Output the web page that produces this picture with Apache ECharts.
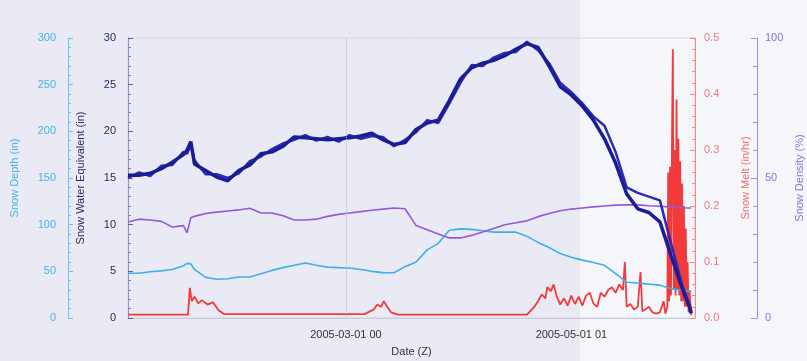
<!DOCTYPE html>
<html>
<head>
<meta charset="utf-8">
<script src="https://cdn.jsdelivr.net/npm/echarts@6/dist/echarts.min.js"></script>
<style>
  html, body { margin: 0; padding: 0; }
  #chart { width: 807px; height: 361px; }
</style>
</head>
<body>
<div id="chart"></div>
<script>
// sample times for depth / SWE / density (UTC)
var obsDates = [
  '2005-01-01 00:00','2005-01-04 00:00','2005-01-07 00:00','2005-01-10 00:00','2005-01-13 00:00',
  '2005-01-16 00:00','2005-01-17 00:00','2005-01-18 00:00','2005-01-19 00:00','2005-01-22 00:00',
  '2005-01-25 00:00','2005-01-28 00:00','2005-01-31 00:00','2005-02-03 00:00','2005-02-06 00:00',
  '2005-02-09 00:00','2005-02-12 00:00','2005-02-15 00:00','2005-02-18 00:00','2005-02-21 00:00',
  '2005-02-24 00:00','2005-02-27 00:00','2005-03-02 00:00','2005-03-05 00:00','2005-03-08 00:00',
  '2005-03-11 00:00','2005-03-14 00:00','2005-03-17 00:00','2005-03-20 00:00','2005-03-23 00:00',
  '2005-03-26 00:00','2005-03-29 00:00','2005-04-01 00:00','2005-04-04 00:00','2005-04-07 00:00',
  '2005-04-10 00:00','2005-04-13 00:00','2005-04-16 00:00','2005-04-19 00:00','2005-04-22 00:00',
  '2005-04-25 00:00','2005-04-28 00:00','2005-05-01 00:00','2005-05-04 00:00','2005-05-07 00:00',
  '2005-05-10 00:00','2005-05-13 00:00','2005-05-16 00:00','2005-05-19 00:00','2005-05-22 00:00',
  '2005-05-25 00:00','2005-05-28 00:00','2005-05-31 00:00','2005-06-02 00:00','2005-06-02 12:00'
];
var snowDepth = [
  48, 48, 49.5, 50.5, 52, 56, 58.5, 58, 52, 43.5,
  41.5, 42, 44, 44, 47.5, 51, 54, 56.5, 59, 56.5,
  54.5, 54, 53.6, 52, 50, 48.6, 48.5, 55, 60, 73,
  80, 94, 95.5, 95, 93.5, 92, 92, 92, 87.5, 81,
  75.5, 69, 65, 62, 59.5, 56.5, 47.5, 38.3, 37.5, 36.3,
  35.2, 31.5, 29.5, 28.5, 28
];
var sweMain = [
  15.3, 15.3, 15.5, 16.0, 16.7, 17.5, 18.0, 18.9, 16.5, 15.8,
  15.1, 14.7, 15.8, 16.4, 17.6, 17.8, 18.4, 19.4, 19.3, 19.2,
  19.1, 19.2, 19.3, 19.5, 19.8, 19.1, 18.6, 18.8, 20.2, 20.9,
  21.2, 23.3, 25.6, 26.8, 27.3, 27.6, 28.1, 28.8, 29.4, 29.0,
  27.0, 24.8, 23.9, 22.7, 21.2, 19.2, 16.6, 13.3, 11.7, 11.3,
  10.3, 6.7, 3.2, 1.2, 0.5
];
var sweAlt = [
  15.0, 15.6, 15.2, 16.3, 16.4, 17.8, 17.6, 18.6, 16.9, 15.4,
  15.4, 15.0, 15.5, 16.8, 17.3, 18.1, 18.7, 19.1, 19.6, 19.0,
  19.4, 18.9, 19.6, 19.2, 19.5, 19.4, 18.4, 19.1, 19.9, 21.2,
  20.9, 23.0, 25.2, 27.1, 27.0, 27.9, 28.4, 28.5, 29.6, 28.7,
  27.3, 25.2, 24.2, 23.0, 21.6, 20.6, 17.8, 14.0, 13.4, 13.0,
  12.6, 8.0, 3.6, 1.4, 0.7
];
var snowDensity = [
  34.3, 35.3, 35, 34.5, 32.5, 33, 30.4, 35.8, 36.3, 37.3,
  37.8, 38.2, 38.6, 39.2, 37.5, 37.5, 36.5, 35, 35, 35.3,
  36.3, 37, 37.5, 38, 38.5, 38.9, 39.3, 39, 33, 31.5,
  30, 28.6, 28.6, 29.5, 30.7, 32, 33.3, 34, 34.7, 36.2,
  37.3, 38.3, 38.9, 39.3, 39.7, 40, 40.3, 40.4, 40.4, 40.1,
  39.9, 39.6, 39.4, 39.3, 39.3
];

// snow melt has its own (finer) times
var meltDates = [
  '2005-01-01 00:00','2005-01-17 06:00','2005-01-17 18:00','2005-01-18 06:00','2005-01-19 00:00',
  '2005-01-20 00:00','2005-01-21 00:00','2005-01-22 12:00','2005-01-24 00:00','2005-01-25 12:00',
  '2005-01-27 00:00','2005-03-06 00:00','2005-03-08 12:00','2005-03-09 12:00','2005-03-10 12:00',
  '2005-03-11 06:00','2005-03-12 00:00','2005-03-13 06:00','2005-03-15 00:00','2005-04-19 00:00',
  '2005-04-21 00:00','2005-04-22 00:00','2005-04-23 00:00','2005-04-24 00:00','2005-04-24 12:00',
  '2005-04-25 12:00','2005-04-26 06:00','2005-04-27 00:00','2005-04-28 00:00','2005-04-29 00:00',
  '2005-04-30 00:00','2005-05-01 00:00','2005-05-02 00:00','2005-05-03 00:00','2005-05-04 00:00',
  '2005-05-05 00:00','2005-05-06 00:00','2005-05-07 00:00','2005-05-08 00:00','2005-05-09 00:00',
  '2005-05-10 00:00','2005-05-11 00:00','2005-05-12 00:00','2005-05-13 00:00','2005-05-14 00:00',
  '2005-05-15 00:00','2005-05-15 12:00','2005-05-16 00:00','2005-05-17 00:00','2005-05-18 00:00',
  '2005-05-19 00:00','2005-05-19 18:00','2005-05-20 06:00','2005-05-21 00:00','2005-05-22 00:00',
  '2005-05-23 00:00','2005-05-24 00:00','2005-05-25 00:00','2005-05-26 00:00','2005-05-26 12:00',
  '2005-05-27 00:00','2005-05-27 06:00','2005-05-27 12:00','2005-05-27 18:00','2005-05-28 00:00',
  '2005-05-28 06:00','2005-05-28 12:00','2005-05-28 18:00','2005-05-29 00:00','2005-05-29 06:00',
  '2005-05-29 12:00','2005-05-29 18:00','2005-05-30 00:00','2005-05-30 06:00','2005-05-30 12:00',
  '2005-05-30 18:00','2005-05-31 00:00','2005-05-31 06:00','2005-05-31 12:00','2005-05-31 18:00',
  '2005-06-01 00:00','2005-06-01 06:00','2005-06-01 12:00','2005-06-01 18:00','2005-06-02 00:00',
  '2005-06-02 12:00'
];
var snowMelt = [
  0.006, 0.006, 0.054, 0.03, 0.038,
  0.026, 0.032, 0.024, 0.028, 0.014,
  0.007, 0.007, 0.015, 0.024, 0.02,
  0.03, 0.022, 0.01, 0.006, 0.006,
  0.02, 0.03, 0.042, 0.035, 0.055,
  0.048, 0.06, 0.04, 0.024, 0.035,
  0.022, 0.04, 0.025, 0.038, 0.022,
  0.04, 0.045, 0.026, 0.02, 0.045,
  0.038, 0.05, 0.055, 0.045, 0.06,
  0.05, 0.1, 0.02, 0.025, 0.015,
  0.02, 0.082, 0.012, 0.015, 0.02,
  0.01, 0.008, 0.01, 0.03, 0.008,
  0.02, 0.26, 0.03, 0.27, 0.04,
  0.3, 0.48, 0.05, 0.3, 0.04,
  0.39, 0.05, 0.32, 0.04, 0.28,
  0.03, 0.24, 0.03, 0.2, 0.02,
  0.16, 0.02, 0.1, 0.01, 0.05,
  0.005
];

var xLabelDates = ['2005-03-01 00:00', '2005-05-01 01:00'];

function toTime(s) {
  return Date.parse(s.replace(' ', 'T') + ':00Z');
}
function pairs(dates, vals) {
  return dates.map(function (d, i) { return [toTime(d), vals[i]]; });
}
function pad(n) { return n < 10 ? '0' + n : '' + n; }
function fmtDate(v) {
  var d = new Date(v);
  return d.getUTCFullYear() + '-' + pad(d.getUTCMonth() + 1) + '-' + pad(d.getUTCDate()) +
    ' ' + pad(d.getUTCHours());
}

var dom = document.getElementById('chart');
var myChart = echarts.init(dom);

var labelFont = { fontFamily: 'Liberation Sans', fontSize: 11 };

var option = {
  animation: false,
  backgroundColor: '#e9eaf4',
  graphic: [
    {
      type: 'rect',
      left: 580, top: 0,
      shape: { width: 227, height: 361 },
      style: { fill: 'rgba(255,255,255,0.55)' },
      z: -10
    }
  ],
  grid: {
    left: 128, right: 112, top: 38, bottom: 43,
    outerBoundsMode: 'none',
    containLabel: false,
    show: true,
    borderColor: '#d4d6e4',
    borderWidth: 1,
    backgroundColor: 'transparent'
  },
  xAxis: {
    type: 'value',
    min: toTime('2005-01-01 00:00'),
    max: toTime('2005-06-03 12:00'),
    name: 'Date (Z)',
    nameLocation: 'middle',
    nameGap: 28,
    nameTextStyle: { color: '#333', fontFamily: 'Liberation Sans', fontSize: 11 },
    axisLine: { show: true, lineStyle: { color: '#c8cadb' } },
    axisTick: { show: false },
    axisLabel: {
      customValues: xLabelDates.map(toTime),
      color: '#333',
      fontFamily: 'Liberation Sans',
      fontSize: 11,
      margin: 11,
      formatter: fmtDate
    },
    splitLine: { show: false }
  },
  yAxis: [
    {
      type: 'value', position: 'left', offset: 0,
      min: 0, max: 30, interval: 5,
      name: 'Snow Water Equivalent (in)',
      nameLocation: 'middle', nameRotate: 90, nameGap: 42,
      nameTextStyle: { color: '#2a2a55', fontFamily: 'Liberation Sans', fontSize: 11 },
      axisLine: { show: true, lineStyle: { color: '#8f92c8' } },
      axisTick: { show: true, inside: true, length: 5, lineStyle: { color: '#5a5ea8' } },
      minorTick: { show: true, splitNumber: 5, length: 3, lineStyle: { color: '#7a7eb8' } },
      axisLabel: Object.assign({ color: '#2a2a55', margin: 12 }, labelFont),
      splitLine: { show: false }
    },
    {
      type: 'value', position: 'left', offset: 60,
      min: 0, max: 300, interval: 50,
      name: 'Snow Depth (in)',
      nameLocation: 'middle', nameRotate: 90, nameGap: 48,
      nameTextStyle: { color: '#45b4e6', fontFamily: 'Liberation Sans', fontSize: 11 },
      axisLine: { show: true, lineStyle: { color: '#6cc3ee' } },
      axisTick: { show: true, inside: true, length: 5, lineStyle: { color: '#6cc3ee' } },
      minorTick: { show: true, splitNumber: 5, length: 3, lineStyle: { color: '#6cc3ee' } },
      axisLabel: Object.assign({ color: '#45b4e6', margin: 12 }, labelFont),
      splitLine: { show: false }
    },
    {
      type: 'value', position: 'right', offset: 0,
      min: 0, max: 0.5, interval: 0.1,
      name: 'Snow Melt (in/hr)',
      nameLocation: 'middle', nameRotate: 90, nameGap: 45,
      nameTextStyle: { color: '#ee6f6f', fontFamily: 'Liberation Sans', fontSize: 11 },
      axisLine: { show: true, lineStyle: { color: '#f08a8a' } },
      axisTick: { show: true, inside: true, length: 5, lineStyle: { color: '#f08a8a' } },
      minorTick: { show: true, splitNumber: 5, length: 3, lineStyle: { color: '#f08a8a' } },
      axisLabel: Object.assign({
        color: '#ee7a7a', margin: 9,
        formatter: function (v) { return v.toFixed(1); }
      }, labelFont),
      splitLine: { show: false }
    },
    {
      type: 'value', position: 'right', offset: 62,
      min: 0, max: 100, interval: 50,
      name: 'Snow Density (%)',
      nameLocation: 'middle', nameRotate: 90, nameGap: 37,
      nameTextStyle: { color: '#8e72d8', fontFamily: 'Liberation Sans', fontSize: 11 },
      axisLine: { show: true, lineStyle: { color: '#9c8fe0' } },
      axisTick: { show: true, inside: true, length: 6, lineStyle: { color: '#9c8fe0' } },
      minorTick: { show: true, splitNumber: 5, length: 4, lineStyle: { color: '#9c8fe0' } },
      axisLabel: Object.assign({ color: '#8e72d8', margin: 8 }, labelFont),
      splitLine: { show: false }
    }
  ],
  series: [
    {
      name: 'Snow Melt', type: 'line', yAxisIndex: 2,
      data: pairs(meltDates, snowMelt),
      showSymbol: false,
      lineStyle: { color: '#f23a3a', width: 1.8 },
      itemStyle: { color: '#f23a3a' },
      markLine: {
        silent: true,
        symbol: 'none',
        label: { show: false },
        lineStyle: { color: '#b8bacb', type: 'dotted', width: 1 },
        data: [{ xAxis: toTime(xLabelDates[0]) }]
      }
    },
    {
      name: 'Snow Depth', type: 'line', yAxisIndex: 1,
      data: pairs(obsDates, snowDepth),
      showSymbol: false,
      lineStyle: { color: '#3cb0ea', width: 1.6 },
      itemStyle: { color: '#3cb0ea' }
    },
    {
      name: 'Snow Density', type: 'line', yAxisIndex: 3,
      data: pairs(obsDates, snowDensity),
      showSymbol: false,
      lineStyle: { color: '#9458dc', width: 1.6 },
      itemStyle: { color: '#9458dc' }
    },
    {
      name: 'SWE (alt)', type: 'line', yAxisIndex: 0,
      data: pairs(obsDates, sweAlt),
      showSymbol: false,
      lineStyle: { color: '#2a2ab4', width: 2.5 },
      itemStyle: { color: '#2a2ab4' }
    },
    {
      name: 'SWE', type: 'line', yAxisIndex: 0,
      data: pairs(obsDates, sweMain),
      showSymbol: false,
      lineStyle: { color: '#1c1c96', width: 3.5 },
      itemStyle: { color: '#1c1c96' }
    }
  ]
};

if (option && typeof option === 'object') {
    myChart.setOption(option, true);
}
</script>
</body>
</html>
